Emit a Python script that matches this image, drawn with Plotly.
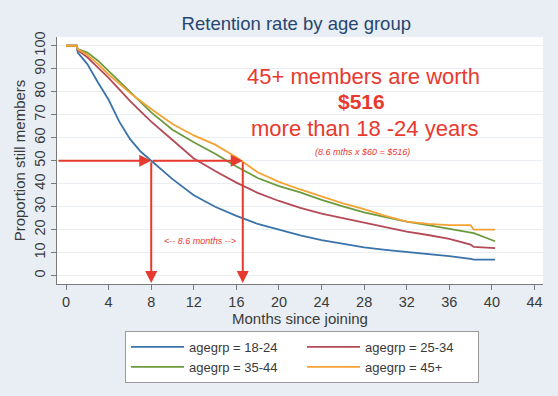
import plotly.graph_objects as go

# ---------------- data ----------------
months = [0, 1, 1.1, 2, 3, 4, 5, 6, 7, 8, 10, 12, 14, 16, 18, 20, 22, 24, 26, 28,
          30, 32, 34, 36, 38, 38.3, 40.3]

age_18_24 = [100, 100, 97, 92, 84, 76.5, 67, 59.5, 54, 50, 42, 35, 30, 26, 22.5, 20,
             17.5, 15.5, 13.8, 12.3, 11.2, 10.3, 9.5, 8.5, 7.3, 7, 7]
age_25_34 = [100, 100, 98, 95, 90.5, 86, 81, 76, 71.5, 67, 59, 51, 45.5, 40.5, 36, 32.5,
             29.5, 27, 25, 23, 21, 19.2, 17.7, 16, 13.5, 12.5, 12]
age_35_44 = [100, 100, 98.5, 97, 93.5, 89, 84.5, 80, 75.5, 71, 63.5, 58, 53, 47.5, 42.5, 39,
             36.2, 33, 30.2, 27.5, 25.5, 23.5, 22, 20.5, 18.8, 18.5, 15]
age_45p = [100, 100, 98.5, 96, 92, 87.5, 83.5, 79.5, 76, 72.5, 66, 61, 57, 51.5, 45, 40.8,
           37.5, 34.5, 31.5, 29, 26, 23.5, 22.5, 22, 22, 20, 20]

series_names = ["agegrp = 18-24", "agegrp = 25-34", "agegrp = 35-44", "agegrp = 45+"]
series_values = [age_18_24, age_25_34, age_35_44, age_45p]
series_colors = ["#3a73aa", "#b54a57", "#6c9a3e", "#f5a234"]

x_ticks = list(range(0, 45, 4))
y_ticks = list(range(0, 101, 10))

half_level = 50
median_18_24 = 8.0
median_45p = 16.6

# ---------------- figure ----------------
fig = go.Figure()
for name, vals, col in zip(series_names, series_values, series_colors):
    fig.add_trace(go.Scatter(x=months, y=vals, mode="lines", name=name,
                             line=dict(color=col, width=1.8)))

red = "#e8392f"
font_family = "Liberation Sans, Arial, sans-serif"

L, R, T, B = 57, 15, 37, 112
W, H = 558, 396
PW, PH = W - L - R, H - T - B


def px(xp):
    return (xp - L) / PW


def py(yp):
    return (H - B - yp) / PH


notes = []
arrow_style = dict(xref="x", yref="y", axref="x", ayref="y", text="",
                   showarrow=True, arrowhead=2, arrowsize=1.2, arrowwidth=2,
                   arrowcolor=red)
notes.append(dict(x=median_18_24, y=half_level, ax=-0.85, ay=half_level, **arrow_style))
notes.append(dict(x=median_45p, y=half_level, ax=median_18_24, ay=half_level, **arrow_style))
for xm in (median_18_24, median_45p):
    notes.append(dict(x=xm, y=-3.2, ax=xm, ay=half_level, **arrow_style))

text_notes = [
    ("45+ members are worth", 363, 76.5, 22),
    ("<b>$516</b>", 361, 101.5, 21),
    ("more than 18 -24 years", 364, 128, 22),
    ("<i>(8.6 mths x $60 = $516)</i>", 362, 151.5, 9),
    ("<i><-- 8.6 months --></i>", 200, 241, 9),
]
for txt, xp, yp, size in text_notes:
    notes.append(dict(x=px(xp), y=py(yp), xref="paper", yref="paper", text=txt,
                      showarrow=False, xanchor="center", yanchor="middle",
                      font=dict(size=size, color=red, family=font_family)))

fig.update_layout(
    width=W, height=H,
    margin=dict(l=L, r=R, t=T, b=B),
    paper_bgcolor="#e8eef3",
    plot_bgcolor="#ffffff",
    font=dict(family=font_family, color="#3a3a3a"),
    title=dict(text="Retention rate by age group", x=0.531, xanchor="center",
               y=1 - 24 / 396, yanchor="middle",
               font=dict(size=18.5, color="#27466f", family=font_family)),
    xaxis=dict(range=[-0.85, 44.8], tickvals=x_ticks, showgrid=False, zeroline=False,
               showline=True, linecolor="#7a7a7a", linewidth=1, automargin=False,
               ticks="outside", ticklen=5, tickcolor="#7a7a7a",
               tickfont=dict(size=14.5, color="#3a3a3a"),
               title=dict(text="Months since joining", standoff=0,
                          font=dict(size=15, color="#3a3a3a"))),
    yaxis=dict(range=[-3.6, 103.8], tickvals=y_ticks, showgrid=True,
               gridcolor="#e9eef3", gridwidth=1, zeroline=False, automargin=False,
               showline=True, linecolor="#7a7a7a", linewidth=1,
               ticks="outside", ticklen=5, tickcolor="#7a7a7a", tickangle=-90,
               tickfont=dict(size=14.5, color="#3a3a3a"),
               title=dict(text="Proportion still members", standoff=2,
                          font=dict(size=15, color="#3a3a3a"))),
    legend=dict(orientation="h", x=px(125), xanchor="left",
                y=py(331), yanchor="top",
                bgcolor="#ffffff", bordercolor="#9a9a9a", borderwidth=1,
                entrywidth=108, entrywidthmode="pixels", itemwidth=53,
                font=dict(size=13, color="#3a3a3a"), tracegroupgap=0),
    annotations=notes,
)

fig.write_html("out.html",
               config={"displayModeBar": False},
               post_script="document.body.style.margin='0';"
                           "document.body.style.padding='0';"
                           "document.body.style.background='#e8eef3';")
